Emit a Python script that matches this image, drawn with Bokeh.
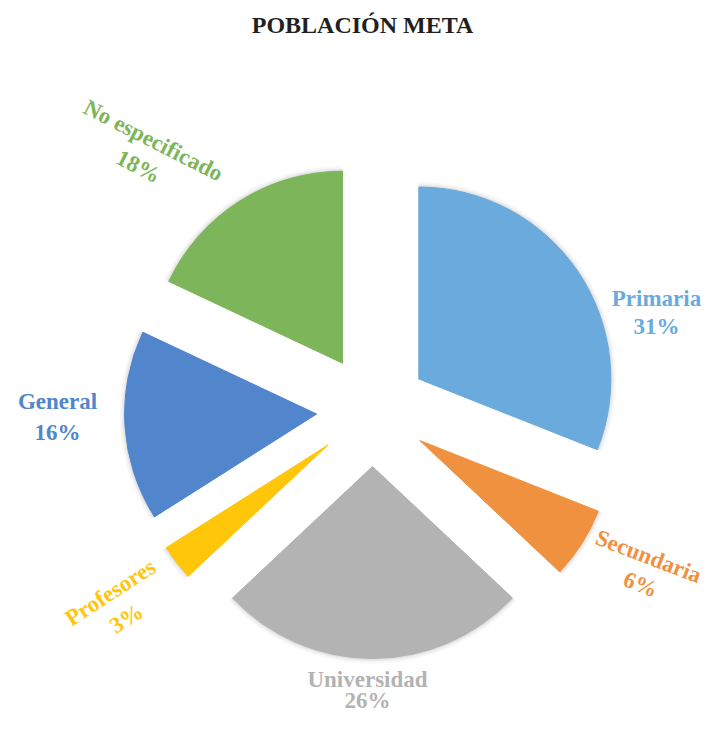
import math
from bokeh.plotting import figure
from bokeh.models import Range1d, ColumnDataSource
from bokeh.core.properties import value
from bokeh.embed import file_html
from bokeh.resources import INLINE

categories = ["Primaria", "Secundaria", "Universidad", "Profesores", "General", "No especificado"]
percents = [31, 6, 26, 3, 16, 18]
colors = ["#6AAADD", "#F0913F", "#B3B3B3", "#FFC60A", "#5185CC", "#7DB65A"]
label_x = [656, 648, 367, 110, 57, 153]
label_y = [298, 556, 679, 592, 401, 140]
pct_x = [656, 640, 367, 126, 57, 138]
pct_y = [326, 584, 700, 618, 432, 166]
label_angle = [0, -21, 0, 33, 0, -27]

W, H = 704, 715
FONT = value("Liberation Serif")

def X(px):
    return px

def Y(py):
    return H - py

cx, cy = X(372), Y(410)
R = 192
OFF = 56

total = sum(percents)
starts, ends, xs, ys = [], [], [], []
acc = 0
for pc in percents:
    a0 = acc / total
    a1 = (acc + pc) / total
    acc += pc
    starts.append(math.radians(90 - a1 * 360))
    ends.append(math.radians(90 - a0 * 360))
    mid = math.radians(90 - (a0 + a1) / 2 * 360)
    xs.append(cx + OFF * math.cos(mid))
    ys.append(cy + OFF * math.sin(mid))

src = ColumnDataSource(dict(x=xs, y=ys, start=starts, end=ends, color=colors))

p = figure(width=W, height=H, output_backend="svg", toolbar_location=None,
           x_range=Range1d(0, W), y_range=Range1d(0, H), min_border=0)
p.axis.visible = False
p.grid.visible = False
p.outline_line_color = None

# soft shadow
for extra, a in [(5, 0.03), (3, 0.04), (1.5, 0.05)]:
    p.wedge(x="x", y="y", radius=R + extra, start_angle="start", end_angle="end",
            fill_color="#000000", fill_alpha=a, line_alpha=0.0, source=src)
p.wedge(x="x", y="y", radius=R, start_angle="start", end_angle="end",
        fill_color="color", line_color="color", source=src)

lsrc = ColumnDataSource(dict(
    x=[X(v) for v in label_x], y=[Y(v) for v in label_y],
    px=[X(v) for v in pct_x], py=[Y(v) for v in pct_y],
    t=categories, pt=[f"{v}%" for v in percents],
    ang=[math.radians(a) for a in label_angle], color=colors))

p.text(x="x", y="y", text="t", angle="ang", text_color="color", source=lsrc,
       text_font=FONT, text_font_style="bold", text_font_size="23px",
       text_align="center", text_baseline="middle")
p.text(x="px", y="py", text="pt", angle="ang", text_color="color", source=lsrc,
       text_font=FONT, text_font_style="bold", text_font_size="23px",
       text_align="center", text_baseline="middle")

p.text(x=[X(362)], y=[Y(24)], text=["POBLACIÓN META"], text_color="#231F20",
       text_font=FONT, text_font_style="bold", text_font_size="24px",
       text_align="center", text_baseline="middle")

open("out.html", "w").write(file_html(p, INLINE))
